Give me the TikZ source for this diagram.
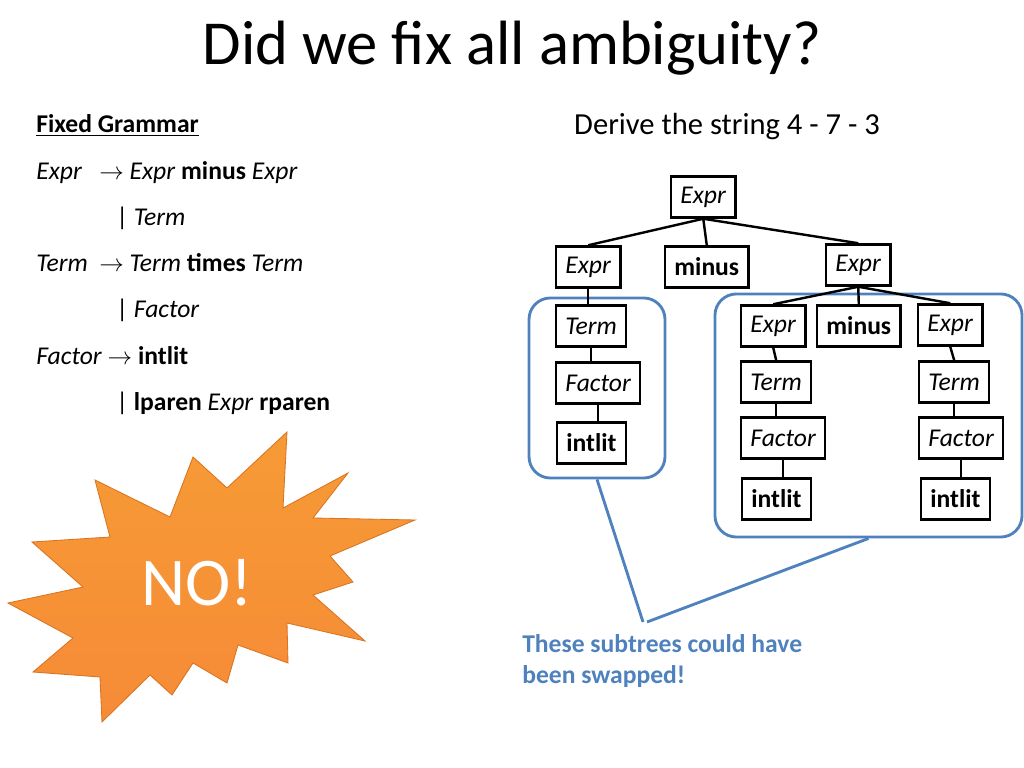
\documentclass[tikz,border=0pt]{standalone}
\usepackage{fontspec}
\setmainfont{Carlito}
\usetikzlibrary{calc}
\definecolor{slideblue}{HTML}{4F81BD}
\definecolor{burstorange}{HTML}{F5923A}
\definecolor{burstedge}{HTML}{DA7420}
\tikzstyle{treenode}=[draw,anchor=west,line width=1.6pt,minimum height=29pt,inner xsep=6.5pt,font=\fontsize{18}{21}\selectfont]
\tikzstyle{treeedge}=[draw,line width=1.7pt]
\tikzstyle{subtree}=[draw=slideblue,line width=2pt,rounded corners=15pt,rectangle]
\tikzstyle{callout}=[draw=slideblue,line width=2pt]
\tikzstyle{gram}=[anchor=base west,inner sep=0pt,font=\fontsize{18}{21}\selectfont]

\begin{document}
\begin{tikzpicture}[x=0.703125pt,y=-0.703125pt]
    \useasboundingbox (0,0) rectangle (1024,768);

    \node[font=\fontsize{44}{50}\selectfont] (title) at (512,48) {Did we fix all ambiguity?};

    % grammar on the left
    \node[gram] (g0) at (36,133) {\underline{\textbf{Fixed Grammar}}};
    \node[gram] (g1) at (36,180) {\textit{Expr}};
    \node[gram] (g2) at (99,180) {$\rightarrow$ \textit{Expr} \textbf{minus} \textit{Expr}};
    \node[gram] (g3) at (116,226) {| \textit{Term}};
    \node[gram] (g4) at (36,272) {\textit{Term}};
    \node[gram] (g5) at (99,272) {$\rightarrow$ \textit{Term} \textbf{times} \textit{Term}};
    \node[gram] (g6) at (116,318) {| \textit{Factor}};
    \node[gram] (g7) at (36,364) {\textit{Factor} $\rightarrow$ \textbf{intlit}};
    \node[gram] (g8) at (116,410) {| \textbf{lparen} \textit{Expr} \textbf{rparen}};

    % the burst
    \shade[top color=burstorange!92!yellow, bottom color=burstorange!95!red, draw=burstedge, line width=0.6pt]
        (287,432) -- (283,508) -- (348,473) -- (313,518) -- (415,520) -- (330,556)
        -- (353,582) -- (313,595) -- (365,641) -- (287,623) -- (288,663) -- (238,645)
        -- (227,683) -- (193,663) -- (172,695) -- (150,675) -- (102,722) -- (100,677)
        -- (33,672) -- (73,638) -- (8,603) -- (83,587) -- (32,542) -- (110,537)
        -- (95,480) -- (170,517) -- (193,457) -- (227,488) -- cycle;
    \node[text=white,font=\fontsize{48}{54}\selectfont] (no) at (197,583) {NO!};

    \node[font=\fontsize{21.5}{25}\selectfont] (derive) at (727,127) {Derive the string 4 - 7 - 3};

    % subtree frames
    \node[subtree,minimum width=95.6pt,minimum height=126.6pt] (leftbox) at (597,388) {};
    \node[subtree,minimum width=215.9pt,minimum height=170.9pt] (rightbox) at (868.5,415.5) {};

    \foreach \pos/ \name/ \txt in {{(670,197)/root/\textit{Expr}}, {(555,267)/exl/\textit{Expr}},
        {(664,267)/mn/\textbf{minus}}, {(825,265)/exr/\textit{Expr}},
        {(555,326)/tl/\textit{Term}}, {(555,383)/fl/\textit{Factor}}, {(556,443)/il/\textbf{intlit}},
        {(740,326)/ea/\textit{Expr}}, {(816,326)/mb/\textbf{minus}}, {(917,325)/eb/\textit{Expr}},
        {(740,382)/ta/\textit{Term}}, {(740,438)/fa/\textit{Factor}}, {(741,499)/ia/\textbf{intlit}},
        {(918,382)/tb/\textit{Term}}, {(918,438)/fb/\textit{Factor}}, {(920,499)/ib/\textbf{intlit}}}
        \node[treenode] (\name) at \pos {\txt};

    % parse tree edges
    \foreach \source/ \dest in {root/exl, root/mn, root/exr, exr/ea, exr/mb, exr/eb, ea/ta, eb/tb}
        \path[treeedge] (\source.south) -- (\dest.north);
    \foreach \source/ \dest in {exl/tl, tl/fl, fl/il, ta/fa, fa/ia, tb/fb, fb/ib}
        \path[treeedge] (\source.south) -- (\source.south |- \dest.north);

    % callout
    \coordinate (tipa) at (643,622);
    \coordinate (tipb) at (647,622);
    \path[callout] (leftbox.south) -- (tipa);
    \path[callout] (rightbox.south) -- (tipb);
    \node[anchor=base west,inner sep=0pt,text=slideblue,font=\bfseries\fontsize{18}{22}\selectfont] (note1) at (522,652) {These subtrees could have};
    \node[anchor=base west,inner sep=0pt,text=slideblue,font=\bfseries\fontsize{18}{22}\selectfont] (note2) at (522,683) {been swapped!};
\end{tikzpicture}
\end{document}
